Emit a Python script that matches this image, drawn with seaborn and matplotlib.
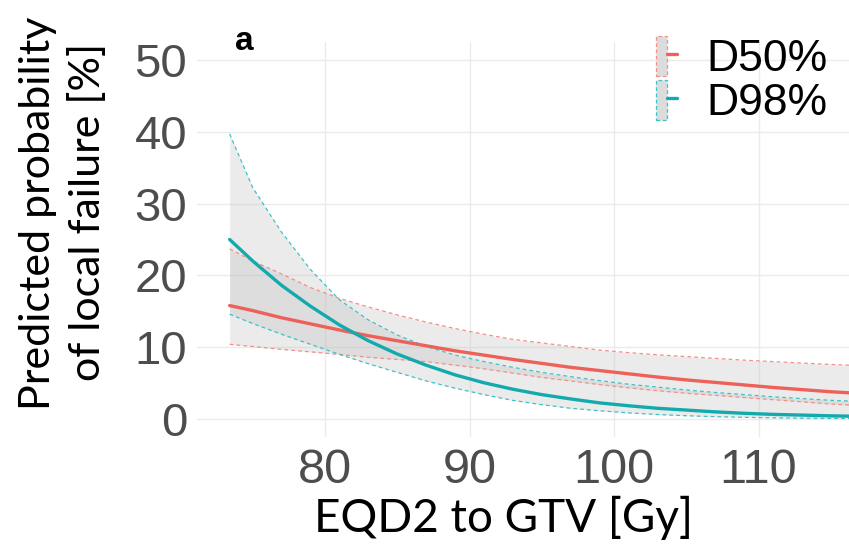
import numpy as np
import pandas as pd
import seaborn as sns
import matplotlib
matplotlib.use("Agg")
import matplotlib.pyplot as plt
from matplotlib.patches import Patch
from matplotlib.lines import Line2D
from matplotlib.legend_handler import HandlerTuple

# Dose grid (EQD2 to GTV, Gy)
dose = [73.4, 75, 77, 79, 81, 83, 85, 87, 89, 91, 93, 95, 97, 99,
        101, 103, 105, 107, 109, 111, 113, 115, 116.3]

# Predicted probability of local failure [%] with 95% confidence band
d50_fit = [15.8, 15.1, 14.1, 13.25, 12.4, 11.6, 10.9, 10.2, 9.5, 8.9, 8.3, 7.75,
           7.2, 6.75, 6.3, 5.85, 5.45, 5.1, 4.75, 4.4, 4.1, 3.8, 3.65]
d50_low = [10.4, 10.1, 9.7, 9.35, 9.0, 8.6, 8.3, 8.0, 7.5, 7.0, 6.4, 5.8,
           5.3, 4.8, 4.35, 3.95, 3.6, 3.3, 3.0, 2.7, 2.4, 2.1, 1.95]
d50_high = [23.7, 22.0, 20.2, 18.3, 16.8, 15.6, 14.5, 13.5, 12.6, 11.8, 11.1, 10.6,
            10.1, 9.6, 9.25, 8.95, 8.7, 8.45, 8.2, 8.0, 7.8, 7.6, 7.5]

d98_fit = [25.0, 22.0, 18.6, 15.7, 13.1, 10.9, 9.05, 7.5, 6.15, 5.05, 4.15, 3.4,
           2.8, 2.25, 1.85, 1.5, 1.25, 1.0, 0.8, 0.65, 0.55, 0.45, 0.4]
d98_low = [14.6, 13.3, 11.8, 10.4, 9.0, 7.7, 6.5, 5.3, 4.3, 3.4, 2.6, 2.0,
           1.5, 1.15, 0.86, 0.63, 0.46, 0.33, 0.24, 0.17, 0.12, 0.09, 0.08]
d98_high = [39.7, 32.2, 26.0, 20.8, 16.6, 13.8, 11.7, 10.1, 8.9, 8.0, 7.2, 6.5,
            5.9, 5.35, 4.85, 4.45, 4.05, 3.7, 3.4, 3.1, 2.85, 2.6, 2.5]

series = ["D50%", "D98%"]
x_ticks = [80, 90, 100, 110]
y_ticks = [0, 10, 20, 30, 40, 50]

palette = {"D50%": "#EE6158", "D98%": "#13AAAD"}
band_edge = {"D50%": "#F58F88", "D98%": "#3CC3C6"}

frames = []
for name, fit, lo, hi in [("D50%", d50_fit, d50_low, d50_high),
                          ("D98%", d98_fit, d98_low, d98_high)]:
    frames.append(pd.DataFrame({"dose": dose, "prob": fit, "lower": lo,
                                "upper": hi, "metric": name}))
df = pd.concat(frames, ignore_index=True)

sns.set_theme(style="whitegrid")
plt.rcParams["font.family"] = ["Liberation Sans", "DejaVu Sans"]

fig = plt.figure(figsize=(8.49, 5.57), dpi=100)
ax = fig.add_axes([197 / 849, 120 / 557, 652 / 849, 395 / 557])

# Confidence bands with dashed borders
for name in series:
    sub = df[df["metric"] == name]
    ax.fill_between(sub["dose"], sub["lower"], sub["upper"],
                    color="#bdbdbd", alpha=0.3, linewidth=0, zorder=2)
    for col in ["lower", "upper"]:
        ax.plot(sub["dose"], sub[col], color=band_edge[name], lw=0.9,
                ls=(0, (3, 2.5)), zorder=3)

# Fitted curves
sns.lineplot(data=df, x="dose", y="prob", hue="metric", palette=palette,
             linewidth=2.4, ax=ax, legend=False, zorder=4)

ax.set_xlim(71.14, 116.26)
ax.set_ylim(-2.5, 52.5)
ax.set_xticks(x_ticks)
ax.set_yticks(y_ticks)
ax.set_xlabel("")
ax.set_ylabel("")
ax.grid(True, color="#ebebeb", linewidth=1.0)
ax.set_facecolor("white")
for s in ax.spines.values():
    s.set_visible(False)
ax.tick_params(axis="both", which="major", length=3, width=0.8,
               color="#4d4d4d", labelcolor="#4d4d4d", direction="out")
ax.tick_params(axis="y", labelsize=34, pad=4)
ax.tick_params(axis="x", labelsize=35, pad=5)
for lab in ax.get_xticklabels() + ax.get_yticklabels():
    lab.set_family(["Liberation Sans", "DejaVu Sans"])

# Axis titles
title_font = ["Lato", "DejaVu Sans"]
fig.text(503 / 849, 1 - 518 / 557, "EQD2 to GTV [Gy]", ha="center", va="center",
         fontsize=33, family=title_font, color="black")
fig.text(38 / 849, 1 - 213 / 557, "Predicted probability", ha="center", va="center",
         rotation=90, fontsize=31, family=title_font, color="black")
fig.text(88 / 849, 1 - 212 / 557, "of local failure [%]", ha="center", va="center",
         rotation=90, fontsize=31, family=title_font, color="black")

# Panel tag
fig.text(244 / 849, 1 - 41 / 557, "a", ha="center", va="center",
         fontsize=24, fontweight="bold", color="black")

# Legend: grey band key with dashed outline and fitted line
handles = []
for name in series:
    patch = Patch(facecolor="#dcdcdc", edgecolor=band_edge[name],
                  linestyle=(0, (3, 2)), linewidth=0.9)
    line = Line2D([], [], color=palette[name], lw=2.4)
    handles.append((patch, line))
leg = fig.legend(handles, series, loc="upper left",
                 bbox_to_anchor=(656 / 849, 1 - 36 / 557),
                 handler_map={tuple: HandlerTuple(ndivide=None, pad=0)},
                 frameon=False, fontsize=32, handlelength=0.48,
                 handleheight=1.0, labelspacing=0.0, handletextpad=0.66,
                 borderpad=0.0, borderaxespad=0.0)
for t in leg.get_texts():
    t.set_color("black")

fig.savefig("out.png", dpi=100, facecolor="white")
